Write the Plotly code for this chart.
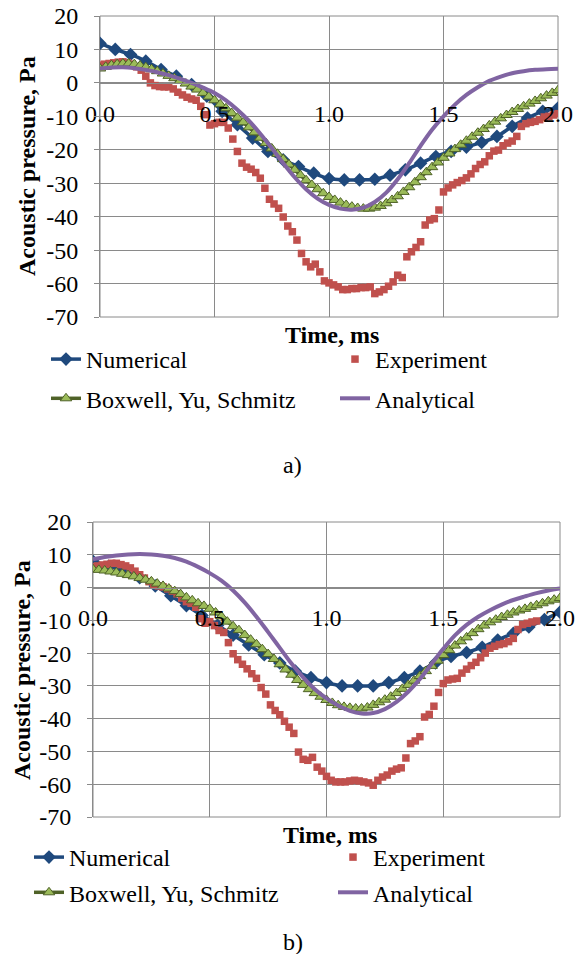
import numpy as np
import plotly.graph_objects as go

# ---------------- data ----------------
x_ticks = [0.0, 0.5, 1.0, 1.5, 2.0]
x_tick_labels = ["0.0", "0.5", "1.0", "1.5", "2.0"]
y_ticks = [20, 10, 0, -10, -20, -30, -40, -50, -60, -70]
y_tick_labels = ["20", "10", "0", "-10", "-20", "-30", "-40", "-50", "-60", "-70"]

# sample time grids (ms)
t_num = np.round(np.arange(31) / 15.0, 4)      # Numerical
t_box = np.round(np.arange(81) * 0.025, 4)     # Boxwell, Yu, Schmitz
t_ana = np.round(np.arange(41) * 0.05, 4)      # Analytical
t_exp_a = np.round(np.arange(101) * 0.02, 4)   # Experiment (a)
t_exp_b = np.round(np.arange(96) * 0.02, 4)    # Experiment (b)

# ---- chart a) ----
num_a = [11.8, 10, 8.5, 6.5, 4, 2, -0.5, -4, -8.5, -12.5, -16.5, -20.5, -23, -25, -27,
         -28.6, -29, -29, -28.8, -27.6, -26, -24, -22, -20.5, -19.2, -17.8, -16, -13, -10.5,
         -8.5, -7.5]
exp_a = [5.3, 5.6, 5.8, 6.0, 6.2, 6.3, 6.0, 5.6, 4.8, 3.8, 2.0, 0.0, -0.8, -1.1, -1.2,
         -1.2, -1.8, -2.8, -3.6, -4.3, -4.8, -5.2, -7.0, -9.5, -12.6, -12.2, -11.8, -11.8,
         -13.5, -16.8, -20.5, -24.0, -25.2, -25.8, -26.8, -28.5, -31.5, -34.8, -36.2, -37.5,
         -40.1, -42.8, -44.5, -47.0, -51.0, -53.5, -55.0, -54.2, -56.5, -59.2, -59.8, -60.4,
         -61.0, -61.8, -61.8, -61.5, -61.5, -61.2, -61.2, -61.0, -63.0, -62.5, -61.8, -60.8,
         -59.5, -57.5, -58.2, -52.0, -50.5, -49.2, -47.5, -42.5, -41.0, -40.6, -38.0, -32.6,
         -31.4, -30.5, -29.8, -29.2, -28.4, -27.2, -25.6, -24.4, -23.6, -21.8, -20.4, -20.1,
         -18.8, -18.0, -17.4, -16.0, -13.0, -12.2, -11.8, -11.5, -11.0, -10.2, -10.0, -9.6,
         -9.2]
box_a = [4.3, 4.8, 5.3, 5.6, 5.8, 5.8, 5.6, 5.2, 4.7, 4.1, 3.5, 2.8, 2.1, 1.4, 0.6, -0.2,
         -1.1, -2.0, -3.0, -4.1, -5.2, -6.4, -7.6, -9.0, -10.4, -11.8, -13.3, -14.8, -16.4,
         -18.0, -19.6, -21.2, -22.8, -24.4, -26.0, -27.6, -29.1, -30.5, -31.8, -33.0, -34.1,
         -35.0, -35.8, -36.5, -37.0, -37.4, -37.6, -37.6, -37.3, -36.8, -36.0, -35.0, -33.9,
         -32.6, -31.2, -29.7, -28.2, -26.7, -25.2, -23.8, -22.4, -21.1, -19.8, -18.5, -17.3,
         -16.1, -14.9, -13.8, -12.7, -11.6, -10.6, -9.6, -8.7, -7.8, -7.0, -6.2, -5.4, -4.6,
         -3.8, -3.0, -2.2]
ana_a = [4.3, 4.6, 4.7, 4.4, 3.9, 3.2, 2.3, 1.2, 0.0, -1.4, -3.0, -5.2, -8.0, -11.3, -15.2,
         -19.5, -24.0, -28.2, -31.8, -34.6, -36.5, -37.6, -37.9, -37.3, -35.6, -32.8, -28.8,
         -24.0, -18.8, -14.0, -10.0, -6.5, -3.6, -1.3, 0.6, 1.9, 2.9, 3.5, 3.9, 4.1, 4.2]

# ---- chart b) ----
num_b = [8, 6.5, 5, 3, 0.5, -2.5, -5.5, -8.5, -11.5, -14.5, -17.5, -20.5, -23, -25.5, -27.5,
         -29, -30, -30, -30, -29, -27.5, -25.5, -23, -21, -19.8, -18.2, -16, -14, -12, -9.8,
         -7.5]
exp_b = [6.4, 6.6, 6.9, 7.1, 7.4, 7.4, 7.0, 6.6, 6.0, 5.0, 3.9, 2.9, 1.8, 0.8, 0.5, 0.2,
         -0.4, -1.1, -1.9, -3.2, -4.3, -4.8, -6.0, -9.5, -10.9, -10.4, -11.6, -13.1, -13.7,
         -16.8, -20.2, -22.0, -23.4, -24.8, -26.3, -27.7, -30.5, -32.5, -35.8, -37.5, -38.8,
         -40.8, -42.6, -44.5, -50.2, -52.4, -52.7, -51.8, -54.8, -56.0, -57.6, -58.8, -59.3,
         -59.3, -59.3, -59.0, -58.8, -59.0, -59.3, -59.6, -60.3, -58.8, -57.8, -57.2, -56.0,
         -55.4, -55.0, -52.0, -47.6, -46.8, -45.5, -39.5, -38.7, -36.2, -32.0, -29.3, -28.2,
         -27.9, -27.7, -26.1, -24.9, -23.8, -22.8, -21.4, -20.0, -18.5, -17.9, -17.4, -17.1,
         -16.5, -15.5, -12.8, -11.3, -10.9, -10.5, -10.2]
box_b = [5.6, 5.4, 5.2, 4.9, 4.6, 4.2, 3.8, 3.4, 2.9, 2.4, 1.9, 1.2, 0.5, -0.3, -1.1, -2.0,
         -3.0, -3.9, -4.8, -5.6, -6.5, -7.6, -8.8, -10.4, -11.8, -13.0, -14.5, -15.9, -17.3,
         -18.8, -20.3, -21.8, -23.4, -25.0, -26.6, -28.2, -29.7, -31.0, -32.2, -33.3, -34.3,
         -35.2, -35.9, -36.4, -36.7, -36.9, -36.9, -36.6, -35.8, -35.0, -34.2, -33.3, -32.2,
         -30.9, -29.7, -28.4, -27.0, -25.5, -23.9, -22.3, -20.6, -19.1, -17.7, -16.4, -15.2,
         -13.9, -12.7, -11.6, -10.6, -9.8, -9.0, -8.3, -7.6, -7.0, -6.5, -5.9, -5.4, -4.8,
         -4.2, -3.7, -3.2]
ana_b = [8.6, 9.3, 9.8, 10.1, 10.2, 10.1, 9.7, 9.0, 7.9, 6.3, 4.4, 2.1, -0.9, -4.6, -8.9,
         -13.6, -18.4, -23.2, -27.4, -31.0, -33.8, -36.0, -37.6, -38.4, -38.3, -37.1, -34.9,
         -31.8, -27.9, -23.3, -18.7, -14.6, -11.4, -8.9, -6.9, -5.2, -3.8, -2.7, -1.7, -0.9,
         -0.3]

series_names = ["Numerical", "Experiment", "Boxwell, Yu, Schmitz", "Analytical"]

# ---------------- style ----------------
W, H = 579, 954
FONT = "Liberation Serif, Times New Roman, serif"
GRID = "#8a8a8a"
C_NUM = "#1f497d"
C_EXP = "#c0504d"
C_BOX_LINE = "#4f6228"
C_BOX_FILL = "#9bbb59"
C_ANA = "#8064a2"
FS = 24


def px_x(p):
    return p / W


def px_y(p):
    return 1 - p / H


fig = go.Figure()


def add_series(xa, ya, t_n, n, t_e, e, t_b, b, t_a, a, leg_l, leg_r):
    fig.add_trace(go.Scatter(
        x=t_n, y=n, name=series_names[0], mode="lines+markers", xaxis=xa, yaxis=ya,
        line=dict(color=C_NUM, width=3.5, shape="spline"),
        marker=dict(symbol="diamond", size=10.5, color=C_NUM),
        legend=leg_l, legendgroup=leg_l + "n"))
    fig.add_trace(go.Scatter(
        x=t_e, y=e, name=series_names[1], mode="markers", xaxis=xa, yaxis=ya,
        marker=dict(symbol="square", size=7.5, color=C_EXP),
        legend=leg_r, legendgroup=leg_r + "e"))
    fig.add_trace(go.Scatter(
        x=t_b, y=b, name=series_names[2], mode="lines+markers", xaxis=xa, yaxis=ya,
        line=dict(color=C_BOX_LINE, width=3.5, shape="spline"),
        marker=dict(symbol="triangle-up", size=10, color=C_BOX_FILL,
                    line=dict(color=C_BOX_LINE, width=1)),
        legend=leg_l, legendgroup=leg_l + "b"))
    fig.add_trace(go.Scatter(
        x=t_a, y=a, name=series_names[3], mode="lines", xaxis=xa, yaxis=ya,
        line=dict(color=C_ANA, width=4, shape="spline"),
        legend=leg_r, legendgroup=leg_r + "a"))


add_series("x", "y", t_num, num_a, t_exp_a, exp_a, t_box, box_a, t_ana, ana_a,
           "legend", "legend2")
add_series("x2", "y2", t_num, num_b, t_exp_b, exp_b, t_box, box_b, t_ana, ana_b,
           "legend3", "legend4")

# plot-area geometry (pixels)
top_a, bot_a, left_a, right_a = 16, 317, 100, 558
top_b, bot_b, left_b, right_b = 522, 817, 93, 560

ydom_a = [px_y(bot_a), px_y(top_a)]
ydom_b = [px_y(bot_b), px_y(top_b)]
zero_frac = 70 / 90


def xaxis_cfg(left, right, ydom):
    return dict(domain=[px_x(left), px_x(right)], range=[0, 2], anchor="free",
                position=ydom[0] + (ydom[1] - ydom[0]) * zero_frac,
                tickvals=x_ticks, ticktext=x_tick_labels,
                showgrid=True, gridcolor=GRID, gridwidth=1, zeroline=False,
                showline=True, linecolor=GRID, linewidth=1,
                ticks="", ticklabelstandoff=9, automargin=False,
                tickfont=dict(family=FONT, size=FS, color="black"),
                fixedrange=True)


def yaxis_cfg(ydom, xref):
    return dict(domain=ydom, range=[-70, 20], anchor=xref,
                tickvals=y_ticks, ticktext=y_tick_labels,
                showgrid=True, gridcolor=GRID, gridwidth=1, zeroline=False,
                showline=True, linecolor=GRID, linewidth=1,
                ticks="outside", ticklen=5, tickcolor=GRID, ticklabelstandoff=11,
                automargin=False,
                tickfont=dict(family=FONT, size=FS, color="black"),
                fixedrange=True)


legend_common = dict(orientation="v", xanchor="left", yanchor="top",
                     bgcolor="rgba(0,0,0,0)", font=dict(family=FONT, size=FS, color="black"),
                     tracegroupgap=5, traceorder="grouped")

fig.update_layout(
    width=W, height=H, margin=dict(l=0, r=0, t=0, b=0, autoexpand=False),
    paper_bgcolor="white", plot_bgcolor="white",
    xaxis=xaxis_cfg(left_a, right_a, ydom_a),
    yaxis=yaxis_cfg(ydom_a, "x"),
    xaxis2=xaxis_cfg(left_b, right_b, ydom_b),
    yaxis2=yaxis_cfg(ydom_b, "x2"),
    legend=dict(legend_common, x=px_x(46), y=px_y(337)),
    legend2=dict(legend_common, x=px_x(335), y=px_y(337)),
    legend3=dict(legend_common, x=px_x(29), y=px_y(835), tracegroupgap=1),
    legend4=dict(legend_common, x=px_x(333), y=px_y(835), tracegroupgap=1),
    showlegend=True,
)

# plot area borders
for xr, yr in (("x domain", "y domain"), ("x2 domain", "y2 domain")):
    fig.add_shape(type="rect", xref=xr, yref=yr, x0=0, x1=1, y0=0, y1=1,
                  line=dict(color=GRID, width=1), layer="below")

title_font = dict(family=FONT, size=FS, color="black")
ann = [
    dict(text="<b>Time, ms</b>", x=px_x(332), y=px_y(335)),
    dict(text="<b>Time, ms</b>", x=px_x(330), y=px_y(835)),
    dict(text="<b>Acoustic pressure, Pa</b>", x=px_x(27), y=px_y(166), textangle=-90),
    dict(text="<b>Acoustic pressure, Pa</b>", x=px_x(22), y=px_y(670), textangle=-90),
    dict(text="a)", x=px_x(293), y=px_y(465)),
    dict(text="b)", x=px_x(293), y=px_y(942)),
]
for a in ann:
    fig.add_annotation(xref="paper", yref="paper", showarrow=False,
                       xanchor="center", yanchor="middle", font=title_font, **a)

fig.write_html("out.html",
               config={"displayModeBar": False},
               post_script="document.body.style.margin='0px';"
                           "document.body.style.overflow='hidden';")
